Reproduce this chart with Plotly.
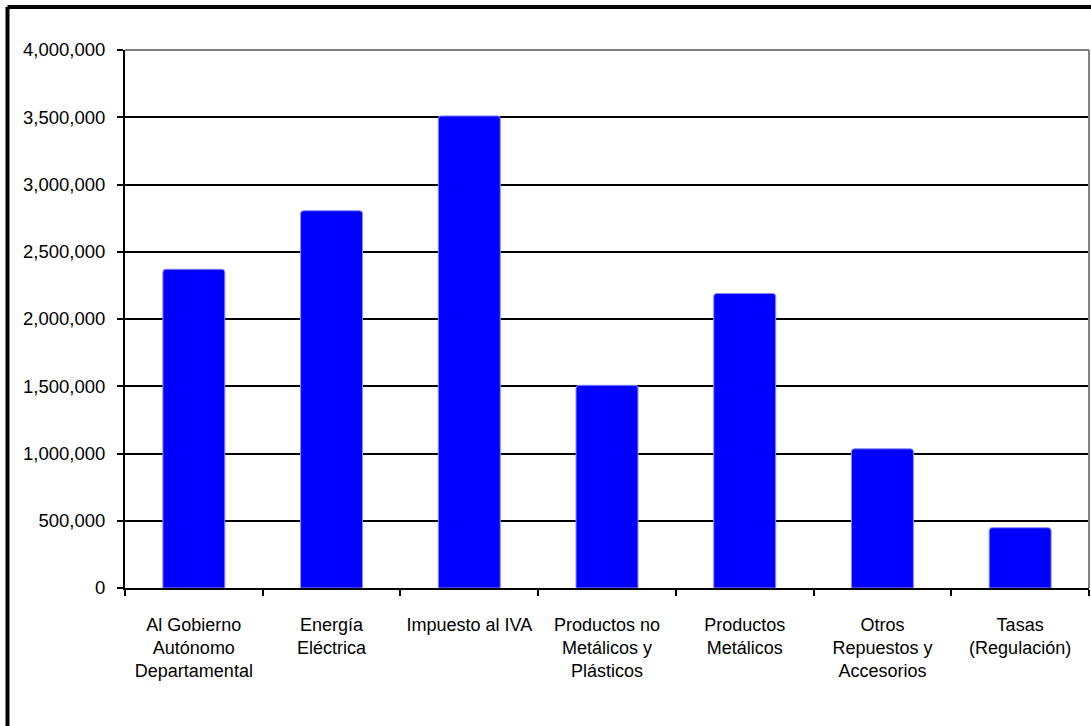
import plotly.graph_objects as go

categories = [
    "Al Gobierno<br>Autónomo<br>Departamental",
    "Energía<br>Eléctrica",
    "Impuesto al IVA",
    "Productos no<br>Metálicos y<br>Plásticos",
    "Productos<br>Metálicos",
    "Otros<br>Repuestos y<br>Accesorios",
    "Tasas<br>(Regulación)",
]
values = [2370000, 2805000, 3510000, 1507000, 2190000, 1035000, 448000]
y_tick_vals = [0, 500000, 1000000, 1500000, 2000000, 2500000, 3000000, 3500000, 4000000]
y_tick_text = ["0", "500,000", "1,000,000", "1,500,000", "2,000,000", "2,500,000",
               "3,000,000", "3,500,000", "4,000,000"]

FONT = "Liberation Sans, Arial, sans-serif"

fig = go.Figure(
    go.Bar(
        x=categories,
        y=values,
        marker=dict(color="#0000FF", line=dict(color="#8c8cff", width=1)),
        hoverinfo="x+y",
    )
)

fig.update_layout(
    width=1091,
    height=726,
    margin=dict(l=125, r=2, t=50, b=138),
    paper_bgcolor="white",
    plot_bgcolor="white",
    bargap=0.55,
    barcornerradius=3,
    showlegend=False,
    font=dict(family=FONT, size=18, color="black"),
    shapes=[
        # outer frame (left and top edges visible)
        dict(type="line", xref="paper", yref="paper", x0=-0.1219, x1=1.01,
             y0=1.0799, y1=1.0799, line=dict(color="black", width=4)),
        dict(type="line", xref="paper", yref="paper", x0=-0.1219, x1=-0.1219,
             y0=1.0799, y1=-0.26, line=dict(color="black", width=4)),
        # gray plot-area border (top and right)
        dict(type="line", xref="paper", yref="paper", x0=0, x1=1,
             y0=1, y1=1, line=dict(color="#808080", width=2)),
        dict(type="line", xref="paper", yref="paper", x0=1, x1=1,
             y0=0, y1=1, line=dict(color="#808080", width=2)),
    ],
)

fig.update_xaxes(
    type="category",
    showline=True,
    linecolor="black",
    linewidth=2,
    ticks="outside",
    tickson="boundaries",
    ticklen=6,
    tickwidth=2,
    tickcolor="black",
    showgrid=False,
    tickangle=0,
    ticklabelstandoff=19,
    tickfont=dict(family=FONT, size=18, color="black"),
)

fig.update_yaxes(
    range=[0, 4000000],
    tickvals=y_tick_vals,
    ticktext=y_tick_text,
    showline=True,
    linecolor="black",
    linewidth=2,
    ticks="outside",
    ticklen=6,
    tickwidth=2,
    tickcolor="black",
    showgrid=True,
    gridcolor="black",
    gridwidth=2,
    zeroline=False,
    ticklabelstandoff=8,
    tickfont=dict(family=FONT, size=18.5, color="black"),
)

fig.write_html(
    "out.html",
    config={"displayModeBar": False},
    post_script="document.body.style.margin='0';",
)
